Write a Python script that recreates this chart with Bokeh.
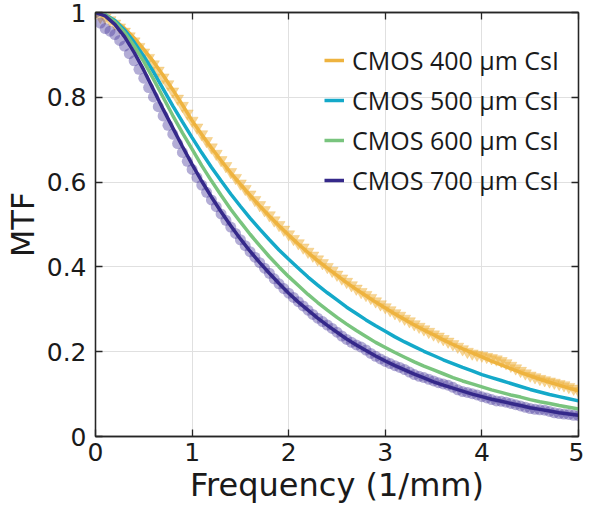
from bokeh.plotting import figure
from bokeh.models import (LinearAxis, Legend, LegendItem, Range1d, FixedTicker,
                          NumeralTickFormatter, CustomLabelingPolicy)
from bokeh.embed import file_html
from bokeh.resources import INLINE

# ---------------- data ----------------
freq_fit = [0.0, 0.1, 0.2, 0.3, 0.4, 0.5, 0.6, 0.7, 0.8, 0.9,
            1.0, 1.1, 1.2, 1.3, 1.4, 1.5, 1.6, 1.7, 1.8, 1.9,
            2.0, 2.1, 2.2, 2.3, 2.4, 2.5, 2.6, 2.7, 2.8, 2.9,
            3.0, 3.1, 3.2, 3.3, 3.4, 3.5, 3.6, 3.7, 3.8, 3.9,
            4.0, 4.1, 4.2, 4.3, 4.4, 4.5, 4.6, 4.7, 4.8, 4.9, 5.0]

mtf_400_fit = [1.000, 0.994, 0.981, 0.963, 0.940, 0.913, 0.884, 0.852, 0.818, 0.782,
               0.745, 0.712, 0.681, 0.651, 0.622, 0.595, 0.569, 0.544, 0.520, 0.497,
               0.475, 0.454, 0.434, 0.415, 0.397, 0.380, 0.363, 0.347, 0.332, 0.317,
               0.303, 0.289, 0.276, 0.263, 0.251, 0.240, 0.228, 0.217, 0.207, 0.197,
               0.188, 0.178, 0.169, 0.160, 0.151, 0.143, 0.135, 0.128, 0.121, 0.114, 0.108]

mtf_500_fit = [1.000, 0.995, 0.981, 0.959, 0.930, 0.897, 0.860, 0.820, 0.780, 0.742,
               0.705, 0.669, 0.635, 0.603, 0.572, 0.543, 0.515, 0.489, 0.464, 0.440,
               0.418, 0.397, 0.376, 0.357, 0.339, 0.322, 0.305, 0.290, 0.275, 0.261,
               0.248, 0.235, 0.223, 0.212, 0.201, 0.191, 0.181, 0.172, 0.163, 0.155,
               0.146, 0.139, 0.132, 0.125, 0.118, 0.111, 0.105, 0.099, 0.094, 0.089, 0.084]

mtf_600_fit = [1.000, 0.994, 0.978, 0.953, 0.921, 0.884, 0.843, 0.800, 0.757, 0.716,
               0.678, 0.639, 0.603, 0.569, 0.536, 0.506, 0.477, 0.450, 0.424, 0.400,
               0.377, 0.356, 0.335, 0.316, 0.298, 0.281, 0.265, 0.250, 0.236, 0.222,
               0.210, 0.198, 0.187, 0.176, 0.166, 0.157, 0.148, 0.139, 0.131, 0.124,
               0.117, 0.110, 0.104, 0.098, 0.093, 0.087, 0.082, 0.078, 0.073, 0.069, 0.065]

mtf_700_fit = [1.000, 0.992, 0.972, 0.943, 0.906, 0.864, 0.818, 0.772, 0.728, 0.684,
               0.642, 0.602, 0.565, 0.530, 0.497, 0.466, 0.437, 0.410, 0.385, 0.361,
               0.338, 0.317, 0.298, 0.279, 0.262, 0.246, 0.230, 0.216, 0.203, 0.190,
               0.178, 0.167, 0.157, 0.147, 0.138, 0.129, 0.121, 0.114, 0.107, 0.100,
               0.094, 0.088, 0.083, 0.078, 0.073, 0.068, 0.064, 0.060, 0.056, 0.053, 0.050]

freq_meas = [0.00, 0.05, 0.10, 0.15, 0.20, 0.25, 0.30, 0.35, 0.40, 0.45,
             0.50, 0.55, 0.60, 0.65, 0.70, 0.75, 0.80, 0.85, 0.90, 0.95,
             1.00, 1.05, 1.10, 1.15, 1.20, 1.25, 1.30, 1.35, 1.40, 1.45,
             1.50, 1.55, 1.60, 1.65, 1.70, 1.75, 1.80, 1.85, 1.90, 1.95,
             2.00, 2.05, 2.10, 2.15, 2.20, 2.25, 2.30, 2.35, 2.40, 2.45,
             2.50, 2.55, 2.60, 2.65, 2.70, 2.75, 2.80, 2.85, 2.90, 2.95,
             3.00, 3.05, 3.10, 3.15, 3.20, 3.25, 3.30, 3.35, 3.40, 3.45,
             3.50, 3.55, 3.60, 3.65, 3.70, 3.75, 3.80, 3.85, 3.90, 3.95,
             4.00, 4.05, 4.10, 4.15, 4.20, 4.25, 4.30, 4.35, 4.40, 4.45,
             4.50, 4.55, 4.60, 4.65, 4.70, 4.75, 4.80, 4.85, 4.90, 4.95, 5.00]

mtf_400_meas = [1.000, 0.990, 0.988, 0.982, 0.974, 0.965, 0.955, 0.944, 0.932, 0.919,
                0.906, 0.893, 0.878, 0.863, 0.847, 0.831, 0.814, 0.797, 0.780, 0.762,
                0.745, 0.729, 0.713, 0.697, 0.682, 0.667, 0.652, 0.638, 0.624, 0.610,
                0.597, 0.584, 0.571, 0.558, 0.546, 0.534, 0.522, 0.510, 0.499, 0.488,
                0.477, 0.466, 0.456, 0.446, 0.436, 0.427, 0.418, 0.409, 0.400, 0.391,
                0.382, 0.373, 0.365, 0.357, 0.349, 0.341, 0.334, 0.327, 0.319, 0.312,
                0.305, 0.298, 0.291, 0.285, 0.278, 0.272, 0.265, 0.259, 0.253, 0.247,
                0.241, 0.236, 0.230, 0.224, 0.218, 0.212, 0.206, 0.200, 0.196, 0.193,
                0.191, 0.188, 0.185, 0.182, 0.178, 0.173, 0.167, 0.161, 0.155, 0.149,
                0.144, 0.140, 0.136, 0.133, 0.130, 0.127, 0.124, 0.121, 0.117, 0.113, 0.108]

mtf_700_meas = [1.000, 0.975, 0.962, 0.956, 0.948, 0.934, 0.921, 0.903, 0.886, 0.866,
                0.845, 0.823, 0.801, 0.778, 0.756, 0.734, 0.713, 0.691, 0.670, 0.649,
                0.630, 0.611, 0.593, 0.576, 0.558, 0.542, 0.525, 0.510, 0.494, 0.479,
                0.464, 0.450, 0.436, 0.423, 0.410, 0.397, 0.385, 0.372, 0.360, 0.349,
                0.338, 0.328, 0.318, 0.308, 0.298, 0.288, 0.279, 0.271, 0.263, 0.255,
                0.246, 0.237, 0.229, 0.222, 0.216, 0.211, 0.204, 0.196, 0.189, 0.183,
                0.177, 0.172, 0.167, 0.163, 0.158, 0.152, 0.146, 0.142, 0.139, 0.135,
                0.131, 0.127, 0.124, 0.121, 0.116, 0.110, 0.106, 0.104, 0.101, 0.098,
                0.094, 0.091, 0.087, 0.084, 0.083, 0.081, 0.078, 0.075, 0.072, 0.069,
                0.066, 0.064, 0.063, 0.062, 0.059, 0.056, 0.054, 0.053, 0.052, 0.050, 0.049]

series_labels = ["CMOS 400 \u03bcm CsI", "CMOS 500 \u03bcm CsI",
                 "CMOS 600 \u03bcm CsI", "CMOS 700 \u03bcm CsI"]
x_ticks = [0, 1, 2, 3, 4, 5]
y_ticks = [0, 0.2, 0.4, 0.6, 0.8, 1]
x_label = "Frequency (1/mm)"
y_label = "MTF"

# ---------------- styling ----------------
YEL = "#EEB33F"
CYA = "#14A9C9"
GRN = "#79C47E"
PUR = "#35298A"
PUR_M = "#4B3B9E"
AX = "#262626"
TICK_FONT = "DejaVu Sans"

p = figure(width=584, height=511,
           x_range=Range1d(0, 5), y_range=Range1d(0, 1),
           output_backend="svg", toolbar_location=None,
           min_border_left=86, min_border_right=6,
           min_border_top=12, min_border_bottom=75,
           background_fill_color="white", border_fill_color="white")

p.outline_line_color = AX
p.outline_line_width = 1.3

p.xgrid.ticker = FixedTicker(ticks=x_ticks)
p.ygrid.ticker = FixedTicker(ticks=y_ticks)
p.grid.grid_line_color = "#e0e0e0"
p.grid.grid_line_width = 1


def style_axis(ax):
    ax.axis_line_color = AX
    ax.axis_line_width = 1.3
    ax.major_tick_line_color = AX
    ax.major_tick_line_width = 1.3
    ax.major_tick_in = 7
    ax.major_tick_out = 0
    ax.minor_tick_line_color = None
    ax.major_label_text_font = TICK_FONT
    ax.major_label_text_font_size = "25px"
    ax.major_label_text_color = "#1a1a1a"
    ax.axis_label_text_font = TICK_FONT
    ax.axis_label_text_font_size = "32px"
    ax.axis_label_text_font_style = "normal"
    ax.axis_label_text_color = "#1a1a1a"


xb = p.xaxis[0]
yl = p.yaxis[0]
style_axis(xb)
style_axis(yl)
xb.ticker = FixedTicker(ticks=x_ticks)
yl.ticker = FixedTicker(ticks=y_ticks)
yl.formatter = NumeralTickFormatter(format="0.[0]")
xb.axis_label = x_label
yl.axis_label = y_label
xb.major_label_standoff = 6
xb.axis_label_standoff = 2
yl.major_label_standoff = 9
yl.axis_label_standoff = 2

# box axes on top and right: inward ticks only, no labels
hide_labels = CustomLabelingPolicy(code="for (const i of indices) { indices.unset(i) }\nreturn indices")
xt = LinearAxis(ticker=FixedTicker(ticks=x_ticks))
yr = LinearAxis(ticker=FixedTicker(ticks=y_ticks))
for ax in (xt, yr):
    style_axis(ax)
    ax.major_label_text_font_size = "1px"
    ax.major_label_standoff = 0
    ax.major_label_policy = hide_labels
p.add_layout(xt, "above")
p.add_layout(yr, "right")

# measured points
p.scatter(freq_meas, mtf_400_meas, marker="inverted_triangle", size=12,
          fill_color=YEL, fill_alpha=0.55, line_color=YEL, line_alpha=0.3)
p.scatter(freq_meas, mtf_700_meas, marker="circle", size=11,
          fill_color=PUR_M, fill_alpha=0.42, line_alpha=0)

# fitted curves
r400 = p.line(freq_fit, mtf_400_fit, line_color=YEL, line_width=3.5)
r500 = p.line(freq_fit, mtf_500_fit, line_color=CYA, line_width=3.5)
r600 = p.line(freq_fit, mtf_600_fit, line_color=GRN, line_width=3.5)
r700 = p.line(freq_fit, mtf_700_fit, line_color=PUR, line_width=3.5)

legend = Legend(items=[LegendItem(label=series_labels[0], renderers=[r400]),
                       LegendItem(label=series_labels[1], renderers=[r500]),
                       LegendItem(label=series_labels[2], renderers=[r600]),
                       LegendItem(label=series_labels[3], renderers=[r700])],
                location=(229, 239))
legend.background_fill_alpha = 0
legend.border_line_alpha = 0
legend.padding = 0
legend.margin = 0
legend.spacing = 6
legend.glyph_width = 20
legend.glyph_height = 30
legend.label_height = 30
legend.label_standoff = 8
legend.label_text_font = "Open Sans"
legend.label_text_font_size = "25px"
legend.label_text_color = "#1a1a1a"
p.add_layout(legend)

open("out.html", "w").write(file_html(p, INLINE))
